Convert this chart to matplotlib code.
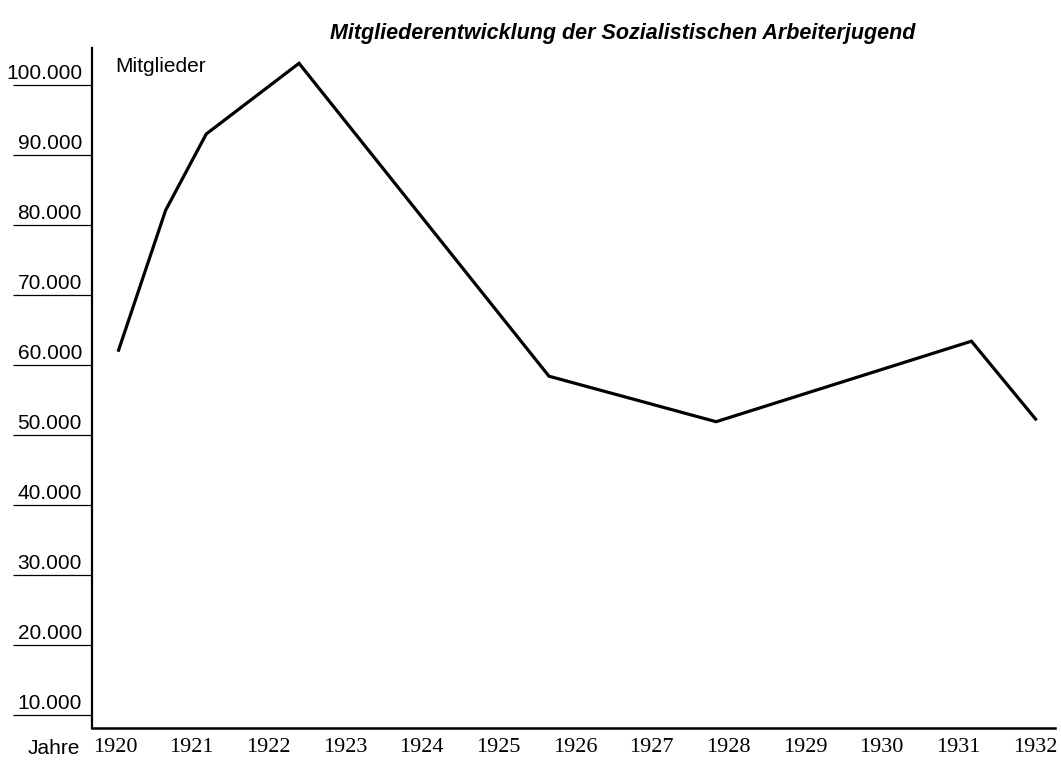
import matplotlib
matplotlib.use("Agg")
import matplotlib.pyplot as plt
import matplotlib.transforms as mtransforms

# ---- data ----
years = [1920.04, 1920.66, 1921.19, 1922.40, 1925.66, 1927.84, 1931.17, 1932.02]
members = [61900, 82100, 93000, 103100, 58400, 51900, 63400, 52100]

year_ticks = list(range(1920, 1933))
year_labels = [str(y) for y in year_ticks]
y_ticks = [10000, 20000, 30000, 40000, 50000, 60000, 70000, 80000, 90000, 100000]
y_labels = ["10.000", "20.000", "30.000", "40.000", "50.000",
            "60.000", "70.000", "80.000", "90.000", "100.000"]

title = "Mitgliederentwicklung der Sozialistischen Arbeiterjugend"
sans = ["Liberation Sans", "DejaVu Sans"]
serif = ["Liberation Serif", "DejaVu Serif"]

W, H = 1061, 760
fig = plt.figure(figsize=(W / 100, H / 100), dpi=100)
fig.patch.set_facecolor("white")

# axes box in pixel terms
left, right, bottom, top = 92, 1055, 728, 48
ax = fig.add_axes([left / W, (H - bottom) / H, (right - left) / W, (bottom - top) / H])

ax.plot(years, members, color="black", linewidth=2.3, solid_joinstyle="miter",
        solid_capstyle="butt")

ax.set_xlim(1919.70, 1932.26)
ax.set_ylim(8143, 105286)

for s in ["top", "right"]:
    ax.spines[s].set_visible(False)
ax.spines["left"].set_linewidth(1.6)
ax.spines["bottom"].set_linewidth(1.8)

# y ticks: long lines to the left, labels sitting above them
ax.set_yticks(y_ticks)
ax.set_yticklabels([])
ax.tick_params(axis="y", direction="out", length=57, width=0.9, color="black")
trans = mtransforms.blended_transform_factory(ax.transAxes, ax.transData)
offs = mtransforms.offset_copy(trans, fig=fig, x=-10, y=2, units="dots")
for v, lab in zip(y_ticks, y_labels):
    ax.text(0, v, lab, transform=offs, ha="right", va="bottom",
            fontsize=15, family=sans, color="black")

# x ticks: serif year labels
ax.set_xticks(year_ticks)
ax.set_xticklabels(year_labels, family=serif, fontsize=16)
ax.tick_params(axis="x", length=0, pad=7)

fig.text(80 / W, (H - 748) / H, "Jahre", ha="right", va="center",
         fontsize=15, family=sans)
fig.text(115 / W, (H - 66) / H, "Mitglieder", ha="left", va="center",
         fontsize=15, family=sans)
fig.text(623 / W, (H - 33) / H, title, ha="center", va="center",
         fontsize=15.5, family=sans, fontweight="bold", fontstyle="italic")

fig.savefig("out.png", dpi=100, facecolor="white")
